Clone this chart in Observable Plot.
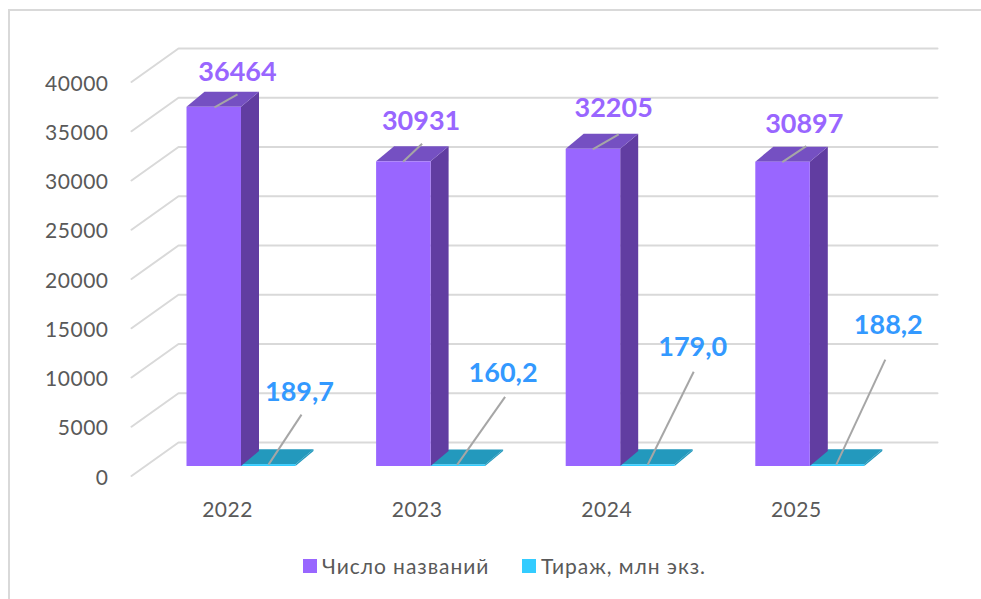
<!DOCTYPE html>
<html><head><meta charset="utf-8">
<script src="https://cdn.jsdelivr.net/npm/d3@7"></script>
<script src="https://cdn.jsdelivr.net/npm/@observablehq/plot@0.6"></script>
<style>
html,body{margin:0;padding:0;background:#fff}
#page{position:relative;width:981px;height:599px;overflow:hidden}
#frame{position:absolute;left:8px;top:9px;width:985px;height:600px;border:2px solid #d9d9d9;box-sizing:border-box}
#chart{position:absolute;left:0;top:0}
#chart g[aria-label="y-axis tick label"],#chart g[aria-label="x-axis tick label"]{letter-spacing:.5px}
#legend{position:absolute;left:0;top:552px;width:981px;height:28px;font:21px Lato,"Open Sans",sans-serif;color:#595959}
.sw{position:absolute;top:7px;width:14px;height:14px}
.lb{position:absolute;top:0;line-height:28px;white-space:nowrap;letter-spacing:.95px}
</style></head><body>
<div id="page"><div id="frame"></div><div id="chart"></div>
<div id="legend">
<span class="sw" style="left:303px;background:#9966ff"></span><span class="lb" style="left:322px" id="l0"></span>
<span class="sw" style="left:522px;background:#33ccff"></span><span class="lb" style="left:541px" id="l1"></span>
</div></div>
<script>
const years = ["2022","2023","2024","2025"];
const titles = [36464,30931,32205,30897];
const printRuns = [189.7,160.2,179.0,188.2];
const printLabels = ["189,7","160,2","179,0","188,2"];
const seriesNames = ["Число названий","Тираж, млн экз."];
const yTicks = [0,5000,10000,15000,20000,25000,30000,35000,40000];

// presentation constants for the pseudo-3D look (scale units)
const PX = 1/189.6, UY = 40000/394;      // one pixel in x / y scale units
const barW = 54.5*PX, depthX = 18*PX, depthY = 15*UY;
const purple="#9966ff", purpleSide="#613da1", purpleTop="#7550c2", cyan="#33ccff", cyanTop="#2399bd";
const gridX=[-110*PX,-63*PX,696*PX], gridShift=[-9.5*UY,24*UY,24*UY];
// leader layout, in px: start dx from category x, rise, run and label offset
const titleLead = [[-27,23,13,0,22],[-28,19,18,-1,22],[-28,26,15,-5,26],[-28,24,16,-2,22]];
const runLead   = [[27,33,50,-2,22],[26,48,68,-2,24],[27,46,93,-1,24],[26,49,105,3,34]];

const idx = years.map((_,i)=>i);
const gridRows = yTicks.flatMap(t=>gridX.map((x,k)=>({t,x,y:t+gridShift[k]})));

function bar(values, right, front, top, side){
  const xl=i=>right?i:i-barW, xr=i=>right?i+barW:i;
  const topRows=idx.flatMap(i=>[0,1].map(k=>({i,y:values[i]+k*depthY,x1:xl(i)+k*depthX,x2:xr(i)+k*depthX})));
  const sideRows=idx.flatMap(i=>[0,1].map(k=>({i,x:xr(i)+k*depthX,y1:k*depthY,y2:values[i]+k*depthY})));
  return [
    Plot.areaY(sideRows,{x:"x",y1:"y1",y2:"y2",z:"i",fill:side}),
    Plot.areaX(topRows,{y:"y",x1:"x1",x2:"x2",z:"i",fill:top}),
    Plot.rectY(idx,{x1:xl,x2:xr,y1:0,y2:i=>values[i],fill:front,inset:0})
  ];
}
const links = (values, lead, base)=>Plot.link(idx,{
  x1:i=>base(i)+lead[i][0]*PX, y1:i=>values[i],
  x2:i=>base(i)+(lead[i][0]+lead[i][1])*PX, y2:i=>values[i]+lead[i][2]*UY,
  stroke:"#a6a6a6",strokeWidth:2,markerEnd:null});

const plot = Plot.plot({
  width:981,height:540,
  marginLeft:115,marginRight:0,marginTop:0,marginBottom:38,
  x:{domain:[0,3],range:[241,809.8]},
  y:{domain:[0,40000],range:[466,72]},
  style:{fontFamily:"Lato,'Open Sans',sans-serif",fontSize:"21px",color:"#595959",background:"transparent"},
  marks:[
    Plot.line(gridRows,{x:"x",y:"y",z:"t",stroke:"#d9d9d9",strokeWidth:2}),
    ...bar(printRuns,true,cyan,cyanTop,cyanTop),
    ...bar(titles,false,purple,purpleTop,purpleSide),
    links(titles,titleLead,i=>i),
    links(printRuns,runLead,i=>i),
    Plot.axisY({ticks:yTicks,tickSize:0,tickPadding:7,tickFormat:d=>String(d),dy:11.5,fill:"#595959",fontSize:21}),
    Plot.axisX({ticks:idx,tickSize:0,tickPadding:0,tickFormat:i=>years[i],dx:-14,fontSize:21,fill:"#595959"}),
    Plot.text(idx,{x:i=>i+(titleLead[i][0]+titleLead[i][1]+titleLead[i][3])*PX,y:i=>titles[i]+(titleLead[i][2]+titleLead[i][4])*UY,
      text:i=>String(titles[i]),fill:purple,fontSize:27,fontWeight:"bold"}),
    Plot.text(idx,{x:i=>i+(runLead[i][0]+runLead[i][1]+runLead[i][3])*PX,y:i=>printRuns[i]+(runLead[i][2]+runLead[i][4])*UY,
      text:i=>printLabels[i],fill:"#3399ff",fontSize:27,fontWeight:"bold"})
  ]
});
document.getElementById("chart").append(plot);
document.getElementById("l0").textContent=seriesNames[0];
document.getElementById("l1").textContent=seriesNames[1];
</script></body></html>
